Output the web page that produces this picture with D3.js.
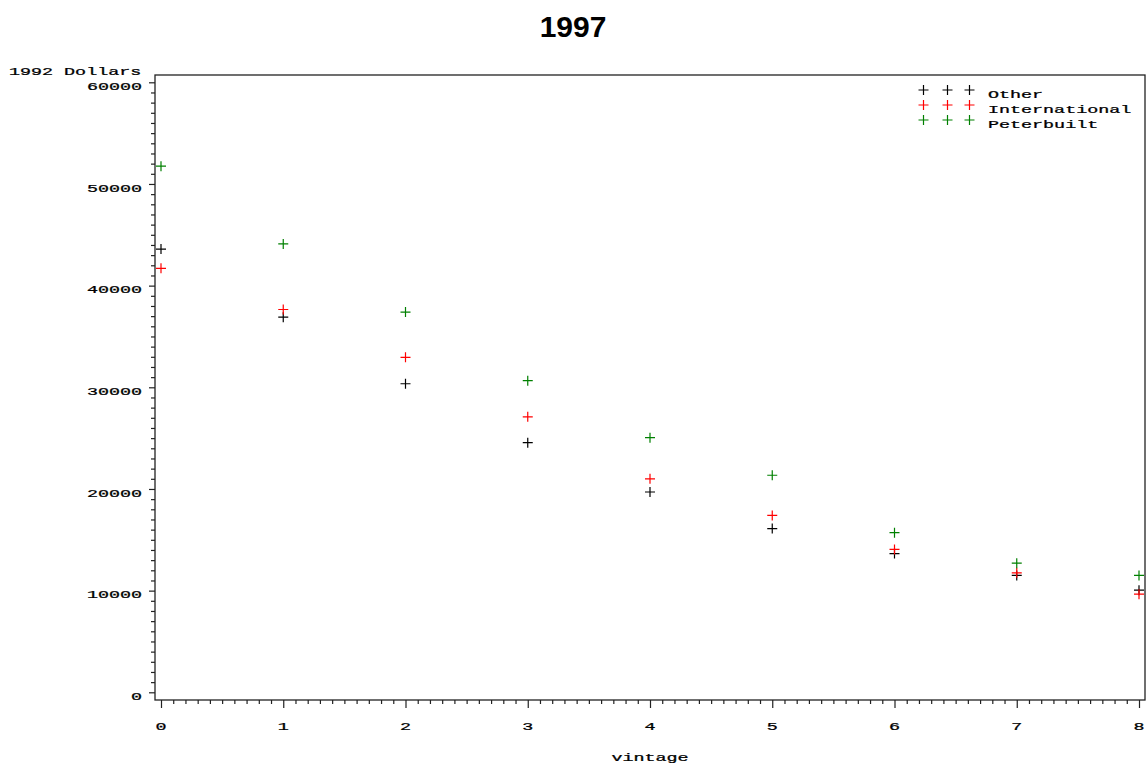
<!DOCTYPE html>
<html>
<head>
<meta charset="utf-8">
<script src="https://cdn.jsdelivr.net/npm/d3@7"></script>
<style>
  body { margin: 0; background: #fff; }
  svg { display: block; }
</style>
</head>
<body>
<svg id="chart" width="1148" height="771"></svg>
<script>
// values (1992 dollars)
const vintages = [0, 1, 2, 3, 4, 5, 6, 7, 8];
const other = [43600, 36900, 30350, 24550, 19700, 16100, 13650, 11500, 10050];
const international = [41700, 37650, 32950, 27100, 21000, 17400, 14050, 11750, 9650];
const peterbuilt = [51750, 44100, 37400, 30650, 25050, 21350, 15700, 12700, 11500];
const yTicks = [0, 10000, 20000, 30000, 40000, 50000, 60000];
const seriesNames = ["Other", "International", "Peterbuilt"];
const seriesColors = ["#000000", "#ff0000", "#008000"];

const svg = d3.select("#chart");
const frameL = 155, frameR = 1145, frameT = 75, frameB = 700;
const stretch = 1.75;  // the SAS font is wide, stretch mono text sideways

const x = d3.scaleLinear().domain([0, 8]).range([161, 1139]);
const y = d3.scaleLinear().domain([0, 60000]).range([692.3, 82.3]);

function wideText(px, py, str, anchor) {
  return svg.append("text")
    .attr("transform", `translate(${px},${py}) scale(${stretch},1)`)
    .attr("text-anchor", anchor || "start")
    .attr("font-family", "'Liberation Mono', 'DejaVu Sans Mono', monospace")
    .attr("font-size", 10.5)
    .attr("fill", "#000")
    .attr("stroke", "#000")
    .attr("stroke-width", 0.25)
    .text(str);
}

// title
svg.append("text")
  .attr("x", 573).attr("y", 37)
  .attr("text-anchor", "middle")
  .attr("font-family", "'Liberation Sans', Arial, sans-serif")
  .attr("font-weight", "bold")
  .attr("font-size", 30)
  .text("1997");

// frame
svg.append("rect")
  .attr("x", frameL).attr("y", frameT)
  .attr("width", frameR - frameL).attr("height", frameB - frameT)
  .attr("fill", "none")
  .attr("stroke", "#222")
  .attr("stroke-width", 1.3);

// x ticks: minor every 0.1, major every 1
const xMinor = d3.range(0, 81).filter(i => i % 10 !== 0).map(i => i / 10);
svg.append("g")
  .attr("transform", `translate(0,${frameB})`)
  .call(d3.axisBottom(x).tickValues(xMinor).tickSize(4).tickFormat(""))
  .call(g => g.select(".domain").remove());
svg.append("g")
  .attr("transform", `translate(0,${frameB})`)
  .call(d3.axisBottom(x).tickValues(vintages).tickSize(8).tickFormat(""))
  .call(g => g.select(".domain").remove());

vintages.forEach(v => wideText(x(v), 730, String(v), "middle"));
wideText((frameL + frameR) / 2, 760.5, "vintage", "middle");

// y ticks: minor every 1000, major every 10000
const yMinor = d3.range(0, 61).filter(i => i % 10 !== 0).map(i => i * 1000);
svg.append("g")
  .attr("transform", `translate(${frameL},0)`)
  .call(d3.axisLeft(y).tickValues(yMinor).tickSize(4).tickFormat(""))
  .call(g => g.select(".domain").remove());
svg.append("g")
  .attr("transform", `translate(${frameL},0)`)
  .call(d3.axisLeft(y).tickValues(yTicks).tickSize(6).tickFormat(""))
  .call(g => g.select(".domain").remove());
svg.selectAll(".tick line").attr("stroke", "#222").attr("stroke-width", 1.2);

yTicks.forEach(v => wideText(142, y(v) + 7.7, String(v), "end"));
wideText(9, 75, "1992 Dollars", "start");

// plus markers
const plus = "M-5,0H5M0,-5V5";
const allSeries = [other, international, peterbuilt];
allSeries.forEach((vals, i) => {
  svg.append("g")
    .selectAll("path")
    .data(vals)
    .join("path")
    .attr("d", plus)
    .attr("transform", (d, j) => `translate(${x(vintages[j])},${y(d)})`)
    .attr("stroke", seriesColors[i])
    .attr("stroke-width", 1.2)
    .attr("fill", "none");
});

// legend
const legendX = [923.5, 947.5, 969.5];
seriesNames.forEach((name, i) => {
  const ly = 90 + i * 15;
  legendX.forEach(lx => {
    svg.append("path")
      .attr("d", plus)
      .attr("transform", `translate(${lx},${ly})`)
      .attr("stroke", seriesColors[i])
      .attr("stroke-width", 1.2)
      .attr("fill", "none");
  });
  wideText(988, ly + 7.5, name, "start");
});
</script>
</body>
</html>
